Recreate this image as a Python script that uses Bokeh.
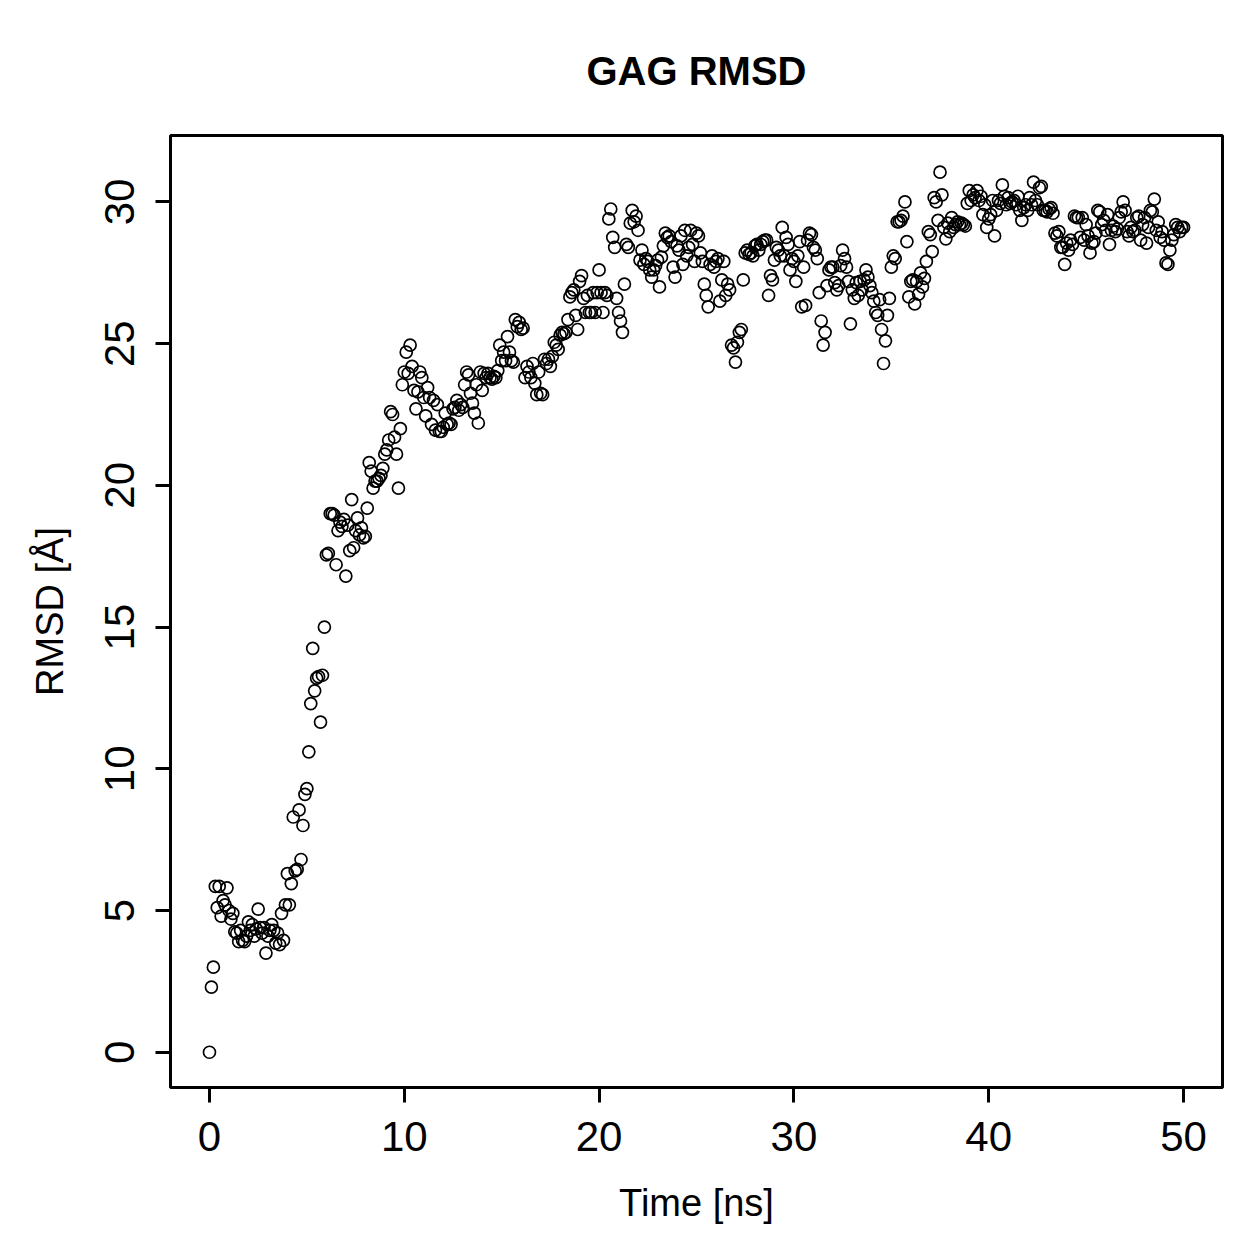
from bokeh.plotting import figure
from bokeh.models import Range1d, FixedTicker, ColumnDataSource
from bokeh.embed import file_html
from bokeh.resources import INLINE

# sampling interval of the trajectory (ns)
dt = 0.1

rmsd_00_10 = [
    0.0, 2.3, 3.0, 5.85, 5.1, 5.85, 4.8, 5.35, 5.2, 5.8,
    5.0, 4.7, 4.9, 4.25, 4.2, 3.9, 4.3, 3.95, 3.9, 4.1,
    4.6, 4.3, 4.5, 4.1, 4.35, 5.05, 4.4, 4.2, 4.4, 3.5,
    4.1, 4.3, 4.5, 4.3, 3.85, 4.2, 3.8, 4.9, 3.95, 5.2,
    6.3, 5.2, 5.95, 8.3, 6.4, 6.45, 8.55, 6.8, 8.0, 9.1,
    9.3, 10.6, 12.3, 14.25, 12.75, 13.2, 13.25, 11.65, 13.3, 15.0,
    17.55, 17.6, 19.0, 19.0, 18.95, 17.2, 18.4, 18.7, 18.55, 18.8,
    16.8, 18.6, 17.7, 19.5, 17.8, 18.4, 18.85, 18.25, 18.5, 18.15,
    18.2, 19.2, 20.8, 20.5, 19.9, 20.15, 20.15, 20.25, 20.35, 20.6,
    21.1, 21.25, 21.6, 22.6, 22.5, 21.7, 21.1, 19.9, 22.0, 23.55,
]

rmsd_10_20 = [
    24.0, 24.7, 23.95, 24.95, 24.2, 23.35, 22.7, 23.3, 24.0, 23.8,
    23.1, 22.45, 23.45, 23.1, 22.15, 23.0, 21.95, 22.85, 21.9, 21.9,
    22.05, 22.55, 22.15, 22.2, 22.15, 22.7, 22.75, 23.0, 22.65, 22.85,
    22.75, 23.55, 24.0, 23.9, 23.25, 22.9, 22.55, 23.55, 22.2, 24.0,
    23.35, 23.95, 23.8, 23.95, 23.8, 23.75, 23.85, 23.8, 24.05, 24.95,
    24.4, 24.7, 24.4, 25.25, 24.7, 24.4, 24.35, 25.85, 25.6, 25.75,
    25.5, 25.55, 23.8, 24.2, 24.0, 23.8, 24.3, 23.6, 23.2, 24.0,
    23.25, 23.2, 24.45, 24.3, 24.45, 24.2, 24.55, 25.05, 24.95, 24.8,
    25.3, 25.4, 25.35, 25.4, 25.85, 26.65, 26.8, 26.9, 26.0, 25.5,
    27.2, 27.4, 26.6, 26.1, 26.7, 26.1, 26.1, 26.8, 26.1, 26.8,
]

rmsd_20_30 = [
    27.6, 26.8, 26.1, 26.8, 26.7, 29.4, 29.75, 28.75, 28.4, 26.6,
    26.1, 25.8, 25.4, 27.1, 28.5, 28.4, 29.25, 29.7, 29.3, 29.5,
    29.0, 27.95, 28.3, 27.8, 28.0, 27.9, 27.6, 27.35, 27.6, 27.75,
    27.95, 27.0, 28.05, 28.45, 28.9, 28.75, 28.8, 28.6, 27.7, 27.35,
    28.45, 28.3, 28.8, 27.8, 29.0, 28.1, 28.4, 29.0, 28.5, 27.9,
    28.9, 28.8, 28.2, 27.9, 27.1, 26.7, 26.3, 27.8, 28.1, 27.7,
    27.9, 28.0, 26.5, 27.25, 27.9, 26.7, 27.1, 26.9, 24.95, 24.85,
    24.35, 25.05, 25.4, 25.5, 27.25, 28.2, 28.3, 28.15, 28.2, 28.1,
    28.45, 28.5, 28.3, 28.5, 28.6, 28.65, 28.65, 26.7, 27.4, 27.25,
    27.95, 28.4, 28.3, 28.1, 29.1, 28.1, 28.75, 28.5, 27.6, 28.0,
]

rmsd_30_40 = [
    27.9, 27.2, 28.1, 28.6, 26.3, 27.7, 26.35, 28.65, 28.9, 28.85,
    28.4, 28.3, 28.0, 26.8, 25.8, 24.95, 25.4, 27.05, 27.6, 27.7,
    27.7, 27.15, 26.9, 27.05, 27.75, 28.3, 28.0, 27.7, 27.2, 25.7,
    26.9, 26.6, 27.15, 26.7, 27.2, 26.9, 27.25, 27.6, 27.35, 27.05,
    26.8, 26.5, 26.1, 26.0, 26.55, 25.5, 24.3, 25.1, 26.0, 26.6,
    27.7, 28.1, 28.0, 29.3, 29.3, 29.35, 29.5, 30.0, 28.6, 26.65,
    27.2, 27.25, 26.4, 27.2, 26.75, 27.5, 27.0, 27.3, 27.9, 28.95,
    28.85, 28.25, 30.15, 30.0, 29.35, 31.05, 30.25, 29.1, 28.7, 29.25,
    28.95, 29.45, 29.1, 29.2, 29.3, 29.2, 29.25, 29.2, 29.15, 29.95,
    30.4, 30.05, 30.25, 30.15, 30.4, 30.05, 30.2, 29.55, 29.9, 29.1,
]

rmsd_40_50 = [
    29.4, 29.55, 30.05, 28.8, 29.7, 30.05, 29.95, 30.6, 30.2, 29.9,
    30.15, 29.95, 30.0, 30.05, 29.9, 30.2, 29.7, 29.35, 29.8, 29.9,
    29.7, 30.15, 29.9, 30.7, 30.05, 29.9, 30.5, 30.55, 29.7, 29.7,
    29.65, 29.75, 29.8, 29.6, 28.9, 28.8, 28.95, 28.4, 28.4, 27.8,
    28.55, 28.3, 28.65, 28.5, 29.5, 29.45, 29.45, 28.75, 29.45, 28.65,
    29.2, 28.8, 28.2, 28.55, 28.6, 28.9, 29.7, 29.65, 29.2, 29.35,
    29.0, 29.55, 28.5, 29.0, 29.15, 28.95, 29.05, 29.45, 29.65, 30.0,
    29.7, 28.95, 28.8, 29.1, 28.95, 29.0, 29.45, 29.5, 28.65, 29.2,
    29.45, 28.55, 29.1, 29.7, 29.65, 30.1, 29.0, 29.3, 28.75, 28.95,
    28.65, 27.85, 27.8, 28.3, 28.65, 28.85, 29.2, 29.1, 28.95, 29.1,
    29.1,
]

x_ticks = [0, 10, 20, 30, 40, 50]
y_ticks = [0, 5, 10, 15, 20, 25, 30]

rmsd = rmsd_00_10 + rmsd_10_20 + rmsd_20_30 + rmsd_30_40 + rmsd_40_50
time = [round(i * dt, 1) for i in range(len(rmsd))]

src = ColumnDataSource(data=dict(time=time, rmsd=rmsd))

FONT = "Liberation Sans"

p = figure(
    width=1259, height=1259,
    output_backend="svg", toolbar_location=None,
    x_range=Range1d(-2, 52), y_range=Range1d(-1.244, 32.344),
    min_border_left=170, min_border_right=37,
    min_border_top=135, min_border_bottom=172,
    title="GAG RMSD",
)
p.title.align = "center"
p.title.text_font = FONT
p.title.text_font_size = "40px"
p.title.text_font_style = "bold"
p.title.text_color = "black"
p.title.standoff = 86

p.xgrid.visible = False
p.ygrid.visible = False
p.outline_line_color = "black"
p.outline_line_width = 3
p.background_fill_color = "white"
p.border_fill_color = "white"

p.scatter("time", "rmsd", source=src, marker="circle", size=12,
          fill_color=None, line_color="black", line_width=1.7)

for ax, ticks, bnd in ((p.xaxis[0], x_ticks, (0, 50)), (p.yaxis[0], y_ticks, (0, 30))):
    ax.ticker = FixedTicker(ticks=ticks)
    ax.bounds = bnd
    ax.axis_line_color = "black"
    ax.axis_line_width = 3
    ax.major_tick_line_color = "black"
    ax.major_tick_line_width = 3
    ax.major_tick_out = 15
    ax.major_tick_in = 0
    ax.minor_tick_line_color = None
    ax.major_label_text_font = FONT
    ax.major_label_text_font_size = "42px"
    ax.major_label_text_color = "black"
    ax.axis_label_text_font = FONT
    ax.axis_label_text_font_size = "38px"
    ax.axis_label_text_font_style = "normal"
    ax.axis_label_text_color = "black"

p.xaxis.axis_label = "Time [ns]"
p.yaxis.axis_label = "RMSD [Å]"
p.xaxis.major_label_standoff = 19
p.xaxis.axis_label_standoff = 28
p.yaxis.major_label_orientation = "vertical"
p.yaxis.major_label_standoff = 21
p.yaxis.axis_label_standoff = 32

open("out.html", "w").write(file_html(p, INLINE))
